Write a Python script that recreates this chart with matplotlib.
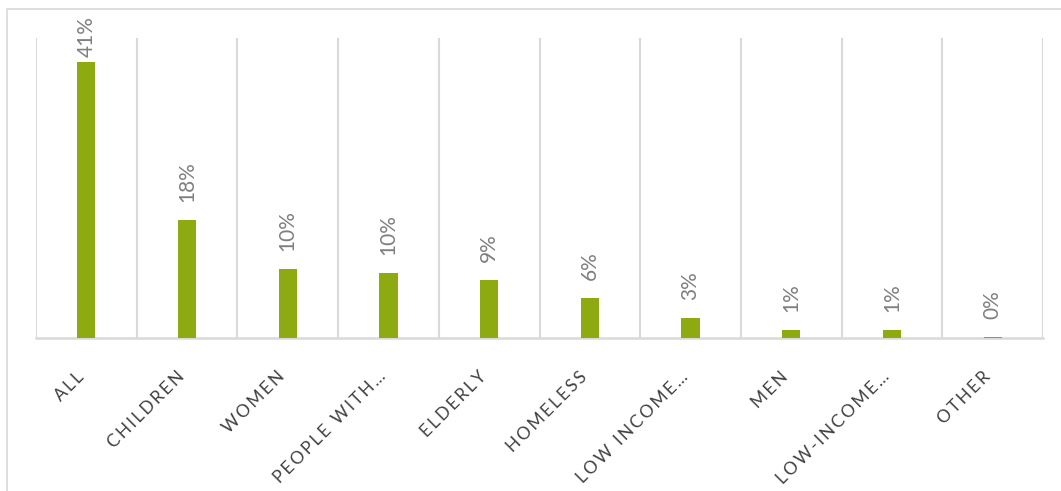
import matplotlib
matplotlib.use("Agg")
import matplotlib.pyplot as plt
import matplotlib.transforms as mtransforms
from matplotlib.lines import Line2D
import numpy as np

categories = ["ALL", "CHILDREN", "WOMEN", "PEOPLE WITH\u2026", "ELDERLY", "HOMELESS",
              "LOW INCOME\u2026", "MEN", "LOW-INCOME\u2026", "OTHER"]
values = [41.0, 17.6, 10.3, 9.6, 8.6, 6.0, 3.0, 1.2, 1.2, 0.2]

W, H = 1061, 491
fig = plt.figure(figsize=(W / 100, H / 100), dpi=100)
ax = fig.add_axes([36 / W, (H - 338) / H, (1043 - 36) / W, 300 / H])

# outer frame: only top and left edges are visible
fig.lines.append(Line2D([7 / W, 7 / W, 1.0], [0.0, 1 - 9 / H, 1 - 9 / H],
                        transform=fig.transFigure, color="#d9d9d9", lw=1.2))

x = np.arange(len(categories))
ax.bar(x, values, width=0.18, color="#8dab10", zorder=3)

ax.set_xlim(-0.5, len(categories) - 0.5)
ax.set_ylim(0, 44.6)
ax.vlines(np.arange(-0.5, len(categories), 1), 0, 44.6, color="#d9d9d9", lw=1.5, zorder=1)

for s in ["top", "right", "left"]:
    ax.spines[s].set_visible(False)
ax.spines["bottom"].set_color("#d9d9d9")
ax.spines["bottom"].set_linewidth(1.8)
ax.set_yticks([])

for xi, v in zip(x, values):
    # the tallest label is pushed down to stay inside the chart
    off = 4 if v > 40 else 13
    ax.annotate(f"{v:.0f}%", (xi, v), xytext=(0, off), textcoords="offset points",
                rotation=90, ha="center", va="bottom", color="#7f7f7f",
                fontsize=15, family="Lato", annotation_clip=False)

spaced = ["\u2009".join(c) for c in categories]
ax.set_xticks(x)
ax.set_xticklabels(spaced, rotation=45, ha="right", rotation_mode="anchor",
                   fontsize=12.5, family="Lato", color="#404040")
ax.tick_params(axis="x", length=0, pad=22)
shift = mtransforms.ScaledTranslation(-11 / 100, 0, fig.dpi_scale_trans)
for lab in ax.get_xticklabels():
    lab.set_transform(lab.get_transform() + shift)

fig.savefig("out.png", dpi=100)
